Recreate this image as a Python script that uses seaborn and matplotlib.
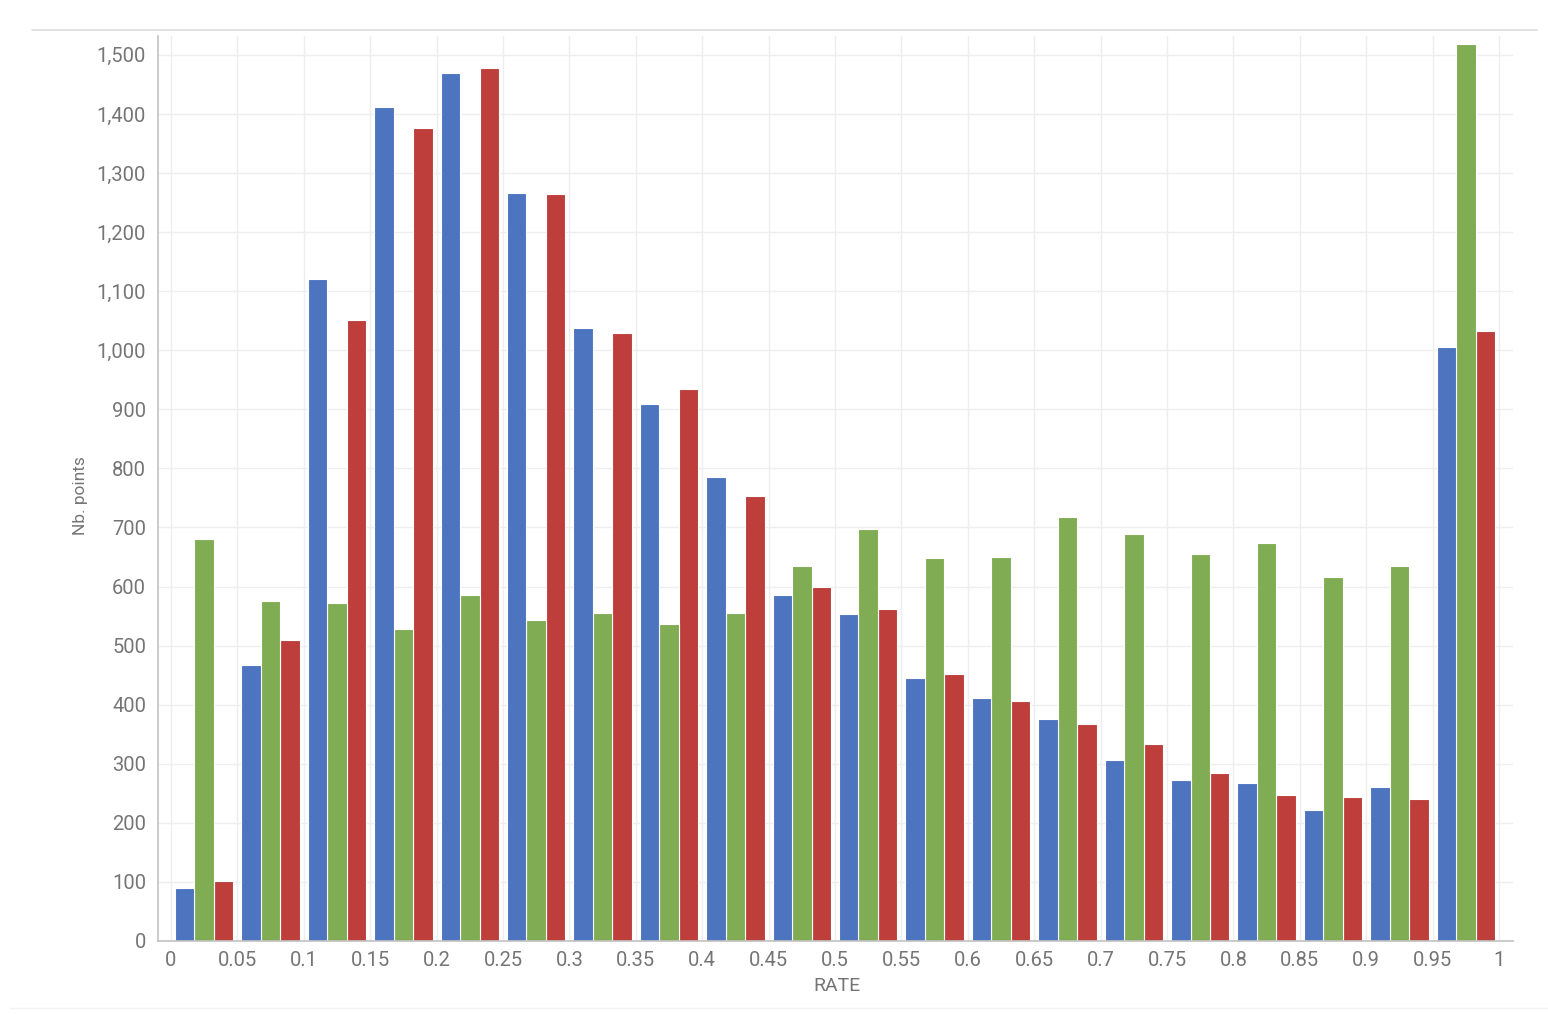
import numpy as np
import pandas as pd
import matplotlib
matplotlib.use("Agg")
import matplotlib.pyplot as plt
from matplotlib.lines import Line2D
from matplotlib.ticker import FuncFormatter, MultipleLocator, FixedLocator
import seaborn as sns

# ---- data ----
bin_edges = [0, 0.05, 0.1, 0.15, 0.2, 0.25, 0.3, 0.35, 0.4, 0.45, 0.5,
             0.55, 0.6, 0.65, 0.7, 0.75, 0.8, 0.85, 0.9, 0.95, 1]
bin_width = 0.05
series_names = ["Series 1", "Series 2", "Series 3"]
series_colors = ["#4d74bf", "#80ac53", "#bd3e3a"]

blue_counts = [90, 467, 1121, 1411, 1470, 1267, 1037, 909, 786, 586,
               554, 446, 411, 375, 306, 273, 267, 221, 261, 1006]
green_counts = [680, 575, 573, 529, 586, 543, 556, 537, 555, 634,
                697, 648, 650, 718, 689, 655, 673, 616, 634, 1518]
red_counts = [102, 509, 1052, 1376, 1477, 1264, 1030, 934, 754, 600,
              562, 452, 406, 368, 334, 285, 247, 243, 240, 1033]

x_label = "RATE"
y_label = "Nb. points"

# ---- long-form table ----
bin_starts = bin_edges[:-1]
rows = []
for name, counts in zip(series_names, [blue_counts, green_counts, red_counts]):
    for b, c in zip(bin_starts, counts):
        rows.append({"rate": b + bin_width / 2, "count": c, "series": name})
df = pd.DataFrame(rows)

# ---- style ----
sns.set_style("white")
plt.rcParams['font.family'] = ['Roboto', 'DejaVu Sans']
text_gray = "#757575"
axis_gray = "#c2c2c2"

fig = plt.figure(figsize=(15.48, 10.14), dpi=100)
ax = fig.add_axes([158 / 1548, 73 / 1014, 1355 / 1548, 905 / 1014])

sns.histplot(data=df, x="rate", weights="count", hue="series",
             hue_order=series_names, palette=series_colors,
             bins=bin_edges, multiple="dodge", shrink=0.88, alpha=1,
             edgecolor="white", linewidth=0.8, legend=False, ax=ax)

ax.set_xlim(-0.0098, 1.0105)
ax.set_ylim(0, 1532)

ax.xaxis.set_major_locator(FixedLocator(bin_edges))
ax.xaxis.set_major_formatter(FuncFormatter(lambda v, p: f"{round(v, 2):g}"))
ax.yaxis.set_major_locator(MultipleLocator(100))
ax.yaxis.set_major_formatter(FuncFormatter(lambda v, p: f"{v:,.0f}"))

ax.set_axisbelow(True)
ax.grid(True, color="#eeeeee", linewidth=1)

for s in ["top", "right"]:
    ax.spines[s].set_visible(False)
for s in ["left", "bottom"]:
    ax.spines[s].set_color(axis_gray)
    ax.spines[s].set_linewidth(1.2)

ax.tick_params(axis="both", direction="out", length=5, width=1,
               color=axis_gray, labelcolor=text_gray, labelsize=14.5)
ax.tick_params(axis="y", pad=3.6)
ax.tick_params(axis="x", pad=2.5)

ax.set_xlabel(x_label, fontsize=14, color=text_gray)
ax.set_ylabel(y_label, fontsize=12.5, color=text_gray)
ax.xaxis.set_label_coords(0.5007, -0.040)
ax.yaxis.set_label_coords(-0.052, 0.492)

# frame decoration lines of the screenshot
fig.add_artist(Line2D([32 / 1548, 1537 / 1548], [1 - 29.5 / 1014, 1 - 29.5 / 1014],
                      color="#dddddd", linewidth=1.2, transform=fig.transFigure))
fig.add_artist(Line2D([10 / 1548, 1548 / 1548], [1 - 1008 / 1014, 1 - 1008 / 1014],
                      color="#f3f3f3", linewidth=1.0, transform=fig.transFigure))

fig.savefig("out.png", dpi=100, facecolor="white")
